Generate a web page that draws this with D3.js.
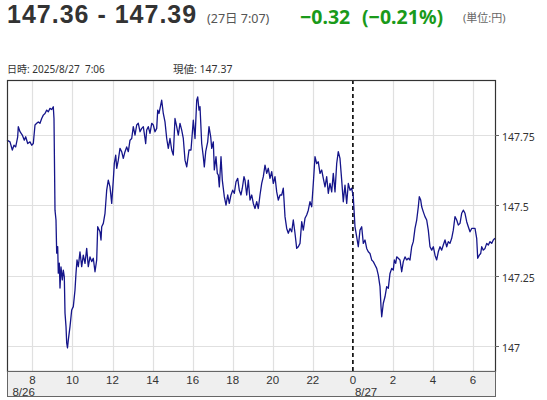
<!DOCTYPE html>
<html>
<head>
<meta charset="utf-8">
<script src="https://cdn.jsdelivr.net/npm/d3@7"></script>
<style>
  body { margin: 0; background: #fff; }
  svg { display: block; font-family: "Noto Sans", "Noto Sans CJK JP", sans-serif; }
</style>
</head>
<body>
<svg id="chart" width="547" height="400"></svg>
<script>
// hours since 8/26 00:00 (24 = 8/27 0:00)
const hours = [
  6.732, 6.882, 6.997, 7.081, 7.166, 7.266, 7.296, 7.381, 7.496, 7.596,
  7.665, 7.765, 7.880, 7.965, 8.045, 8.130, 8.215, 8.295, 8.379, 8.464,
  8.544, 8.629, 8.714, 8.794, 8.879, 8.964, 9.043, 9.078, 9.128, 9.178,
  9.213, 9.263, 9.293, 9.343, 9.378, 9.428, 9.493, 9.543, 9.593, 9.628,
  9.678, 9.712, 9.752, 9.792, 9.877, 9.962, 10.042, 10.127, 10.177, 10.227,
  10.292, 10.376, 10.461, 10.541, 10.626, 10.711, 10.791, 10.876, 10.961, 11.040,
  11.125, 11.210, 11.260, 11.375, 11.425, 11.460, 11.540, 11.625, 11.709, 11.789,
  11.874, 11.959, 12.039, 12.089, 12.159, 12.209, 12.289, 12.373, 12.458, 12.538,
  12.623, 12.708, 12.788, 12.873, 12.958, 13.037, 13.122, 13.207, 13.287, 13.372,
  13.457, 13.537, 13.622, 13.656, 13.706, 13.786, 13.871, 13.956, 14.036, 14.121,
  14.206, 14.256, 14.321, 14.405, 14.455, 14.535, 14.620, 14.705, 14.785, 14.870,
  14.955, 15.034, 15.119, 15.204, 15.284, 15.369, 15.454, 15.534, 15.619, 15.704,
  15.818, 15.918, 16.033, 16.118, 16.203, 16.253, 16.318, 16.368, 16.452, 16.532,
  16.582, 16.652, 16.752, 16.817, 16.902, 16.952, 17.032, 17.082, 17.166, 17.231,
  17.281, 17.331, 17.416, 17.481, 17.581, 17.666, 17.750, 17.830, 17.915, 18.000,
  18.080, 18.165, 18.250, 18.330, 18.414, 18.479, 18.564, 18.614, 18.699, 18.779,
  18.864, 18.949, 19.029, 19.113, 19.198, 19.278, 19.363, 19.448, 19.528, 19.613,
  19.698, 19.778, 19.862, 19.947, 20.027, 20.112, 20.197, 20.277, 20.362, 20.446,
  20.526, 20.611, 20.696, 20.776, 20.861, 20.946, 21.025, 21.110, 21.195, 21.275,
  21.360, 21.445, 21.525, 21.609, 21.694, 21.774, 21.859, 21.944, 22.024, 22.108,
  22.193, 22.273, 22.358, 22.443, 22.523, 22.608, 22.693, 22.772, 22.857, 22.942,
  23.022, 23.107, 23.192, 23.271, 23.356, 23.441, 23.521, 23.606, 23.691, 23.771,
  23.856, 23.940, 24.020, 24.105, 24.190, 24.270, 24.355, 24.440, 24.520, 24.604,
  24.689, 24.769, 24.854, 24.939, 25.019, 25.104, 25.189, 25.269, 25.354, 25.404,
  25.439, 25.519, 25.603, 25.688, 25.768, 25.853, 25.938, 26.018, 26.068, 26.138,
  26.188, 26.267, 26.352, 26.437, 26.517, 26.602, 26.687, 26.767, 26.851, 26.936,
  27.016, 27.101, 27.186, 27.266, 27.316, 27.386, 27.436, 27.516, 27.600, 27.685,
  27.765, 27.850, 27.935, 28.015, 28.100, 28.184, 28.264, 28.349, 28.434, 28.514,
  28.599, 28.684, 28.764, 28.848, 28.933, 29.013, 29.098, 29.183, 29.263, 29.348,
  29.432, 29.512, 29.597, 29.682, 29.762, 29.847, 29.932, 30.012, 30.097, 30.181,
  30.231, 30.311, 30.381, 30.431, 30.511, 30.596, 30.681, 30.761, 30.846, 30.930,
  31.010, 31.095
];

const prices = [
  147.732, 147.726, 147.697, 147.714, 147.708, 147.744, 147.780, 147.762, 147.750, 147.732,
  147.744, 147.720, 147.726, 147.714, 147.720, 147.786, 147.792, 147.797, 147.792, 147.809,
  147.821, 147.827, 147.839, 147.833, 147.845, 147.841, 147.851, 147.809, 147.483, 147.448,
  147.330, 147.353, 147.259, 147.295, 147.206, 147.281, 147.235, 147.270, 147.246, 147.117,
  147.069, 147.011, 146.993, 147.021, 147.069, 147.128, 147.140, 147.199, 147.259, 147.306,
  147.282, 147.335, 147.282, 147.323, 147.294, 147.347, 147.282, 147.317, 147.300, 147.312,
  147.264, 147.306, 147.424, 147.406, 147.377, 147.424, 147.436, 147.472, 147.554, 147.590,
  147.566, 147.507, 147.590, 147.649, 147.679, 147.632, 147.661, 147.703, 147.691, 147.667,
  147.691, 147.708, 147.691, 147.732, 147.738, 147.780, 147.750, 147.786, 147.792, 147.762,
  147.774, 147.780, 147.738, 147.720, 147.768, 147.780, 147.756, 147.792, 147.786, 147.762,
  147.774, 147.839, 147.827, 147.857, 147.874, 147.827, 147.797, 147.738, 147.703, 147.738,
  147.697, 147.679, 147.809, 147.780, 147.750, 147.792, 147.768, 147.738, 147.661, 147.637,
  147.697, 147.697, 147.803, 147.738, 147.874, 147.886, 147.839, 147.851, 147.720, 147.673,
  147.637, 147.691, 147.726, 147.780, 147.744, 147.703, 147.726, 147.626, 147.673, 147.614,
  147.608, 147.566, 147.673, 147.590, 147.531, 147.501, 147.537, 147.507, 147.537, 147.554,
  147.543, 147.584, 147.596, 147.554, 147.537, 147.561, 147.602, 147.590, 147.537, 147.590,
  147.519, 147.537, 147.507, 147.489, 147.513, 147.489, 147.537, 147.578, 147.602, 147.643,
  147.614, 147.632, 147.596, 147.620, 147.578, 147.602, 147.548, 147.519, 147.537, 147.537,
  147.561, 147.460, 147.418, 147.401, 147.418, 147.406, 147.448, 147.401, 147.347, 147.353,
  147.365, 147.442, 147.412, 147.454, 147.466, 147.483, 147.513, 147.495, 147.578, 147.673,
  147.649, 147.655, 147.614, 147.626, 147.596, 147.566, 147.602, 147.543, 147.578, 147.548,
  147.614, 147.548, 147.649, 147.691, 147.667, 147.590, 147.513, 147.572, 147.507, 147.578,
  147.554, 147.561, 147.531, 147.424, 147.388, 147.353, 147.412, 147.424, 147.365, 147.377,
  147.347, 147.335, 147.329, 147.306, 147.300, 147.288, 147.276, 147.252, 147.211, 147.140,
  147.104, 147.152, 147.175, 147.211, 147.205, 147.258, 147.276, 147.270, 147.306, 147.294,
  147.317, 147.312, 147.306, 147.264, 147.300, 147.317, 147.306, 147.312, 147.306, 147.353,
  147.371, 147.418, 147.448, 147.495, 147.531, 147.519, 147.495, 147.477, 147.460, 147.448,
  147.412, 147.353, 147.341, 147.353, 147.323, 147.306, 147.335, 147.353, 147.341, 147.359,
  147.377, 147.353, 147.371, 147.365, 147.383, 147.412, 147.460, 147.448, 147.430, 147.436,
  147.472, 147.483, 147.472, 147.442, 147.424, 147.406, 147.418, 147.418, 147.418, 147.383,
  147.312, 147.323, 147.329, 147.353, 147.341, 147.347, 147.365, 147.359, 147.371, 147.365,
  147.377, 147.383
];

const hourTicks = [8, 10, 12, 14, 16, 18, 20, 22, 24, 26, 28, 30];
const priceTicks = [147, 147.25, 147.5, 147.75];
const dateTicks = [8, 24];
const dateLabels = ["8/26", "8/27"];
const dayBreak = 24;

const headTitle = "147.36 - 147.39";
const headTime = "(27日 7:07)";
const headChange = "−0.32";
const headPct = "(−0.21%)";
const headUnit = "(単位:円)";
const infoTime = "日時: 2025/8/27\u00a0\u00a07:06";
const infoNow = "現値: 147.37";

// plot box
const L = 7, R = 495, T = 80, B = 371, BAND = 25;

const svg = d3.select("#chart");

const x = d3.scaleLinear()
  .domain([hours[0], hours[hours.length - 1]])
  .range([L, R]);
const y = d3.scaleLinear()
  .domain([146.911, 147.946])
  .range([B, T]);

// header
svg.append("text").attr("x", 7).attr("y", 23)
  .style("font-family", "'Liberation Sans', Arial, sans-serif")
  .style("font-size", "25px").style("font-weight", 700)
  .style("letter-spacing", "1px").attr("fill", "#333")
  .text(headTitle);
svg.append("text").attr("x", 207).attr("y", 22.5)
  .style("font-size", "12.5px").attr("fill", "#555")
  .text(headTime);
svg.append("text").attr("x", 300).attr("y", 24)
  .style("font-size", "19.5px").style("font-weight", 700).attr("fill", "#1a9a1a")
  .text(headChange);
svg.append("text").attr("x", 362).attr("y", 24)
  .style("font-size", "19.5px").style("font-weight", 700).attr("fill", "#1a9a1a")
  .text(headPct);
svg.append("text").attr("x", 463).attr("y", 22)
  .style("font-size", "11px").attr("fill", "#666")
  .text(headUnit);

svg.append("text").attr("x", 7).attr("y", 73)
  .style("font-size", "10px").attr("fill", "#333")
  .text(infoTime);
svg.append("text").attr("x", 173).attr("y", 73)
  .style("font-size", "10.5px").attr("fill", "#333")
  .text(infoNow);

// grid
const grid = svg.append("g").attr("stroke", "#e0e0e0").attr("stroke-width", 1.2);
grid.selectAll("line.v").data(hourTicks.filter((h) => h !== dayBreak)).join("line")
  .attr("class", "v")
  .attr("x1", (d) => Math.round(x(d)) + 0.5).attr("x2", (d) => Math.round(x(d)) + 0.5)
  .attr("y1", T).attr("y2", B);
grid.selectAll("line.h").data(priceTicks).join("line")
  .attr("class", "h")
  .attr("x1", L).attr("x2", R)
  .attr("y1", (d) => Math.round(y(d)) + 0.5).attr("y2", (d) => Math.round(y(d)) + 0.5);

// day break
svg.append("line")
  .attr("x1", x(dayBreak)).attr("x2", x(dayBreak))
  .attr("y1", T).attr("y2", B)
  .attr("stroke", "#111").attr("stroke-width", 1.7)
  .attr("stroke-dasharray", "4,3");

// price line
const line = d3.line()
  .x((d, i) => x(hours[i]))
  .y((d) => y(d));
svg.append("path")
  .datum(prices)
  .attr("d", line)
  .attr("fill", "none")
  .attr("stroke", "#15158a")
  .attr("stroke-width", 1.3)
  .attr("stroke-linejoin", "round");

// frame
svg.append("rect")
  .attr("x", L + 0.5).attr("y", T + 0.5)
  .attr("width", R - L).attr("height", B - T)
  .attr("fill", "none").attr("stroke", "#333").attr("stroke-width", 1.2);

// x axis band
svg.append("rect")
  .attr("x", L + 0.5).attr("y", B + 0.5)
  .attr("width", R - L).attr("height", BAND)
  .attr("fill", "#efefef").attr("stroke", "#666").attr("stroke-width", 1);

const xAxis = svg.append("g")
  .style("font-family", "'Liberation Sans', Arial, sans-serif")
  .style("font-size", "11.5px").attr("fill", "#333");
xAxis.selectAll("text.hr").data(hourTicks).join("text")
  .attr("class", "hr")
  .attr("x", (d) => x(d)).attr("y", B + 12.5)
  .attr("text-anchor", "middle")
  .text((d) => d % 24);
xAxis.selectAll("text.dt").data(dateTicks).join("text")
  .attr("class", "dt")
  .attr("x", (d, i) => x(d) + (i === 0 ? -20 : 2)).attr("y", B + 25)
  .text((d, i) => dateLabels[i]);

// y axis (right)
const yAxis = svg.append("g").style("font-size", "10.5px").attr("fill", "#333");
yAxis.selectAll("line").data(priceTicks).join("line")
  .attr("x1", R).attr("x2", R + 4)
  .attr("y1", (d) => Math.round(y(d)) + 0.5).attr("y2", (d) => Math.round(y(d)) + 0.5)
  .attr("stroke", "#666");
yAxis.selectAll("text").data(priceTicks).join("text")
  .attr("x", R + 7).attr("y", (d) => y(d) + 6)
  .text((d) => d);
</script>
</body>
</html>
